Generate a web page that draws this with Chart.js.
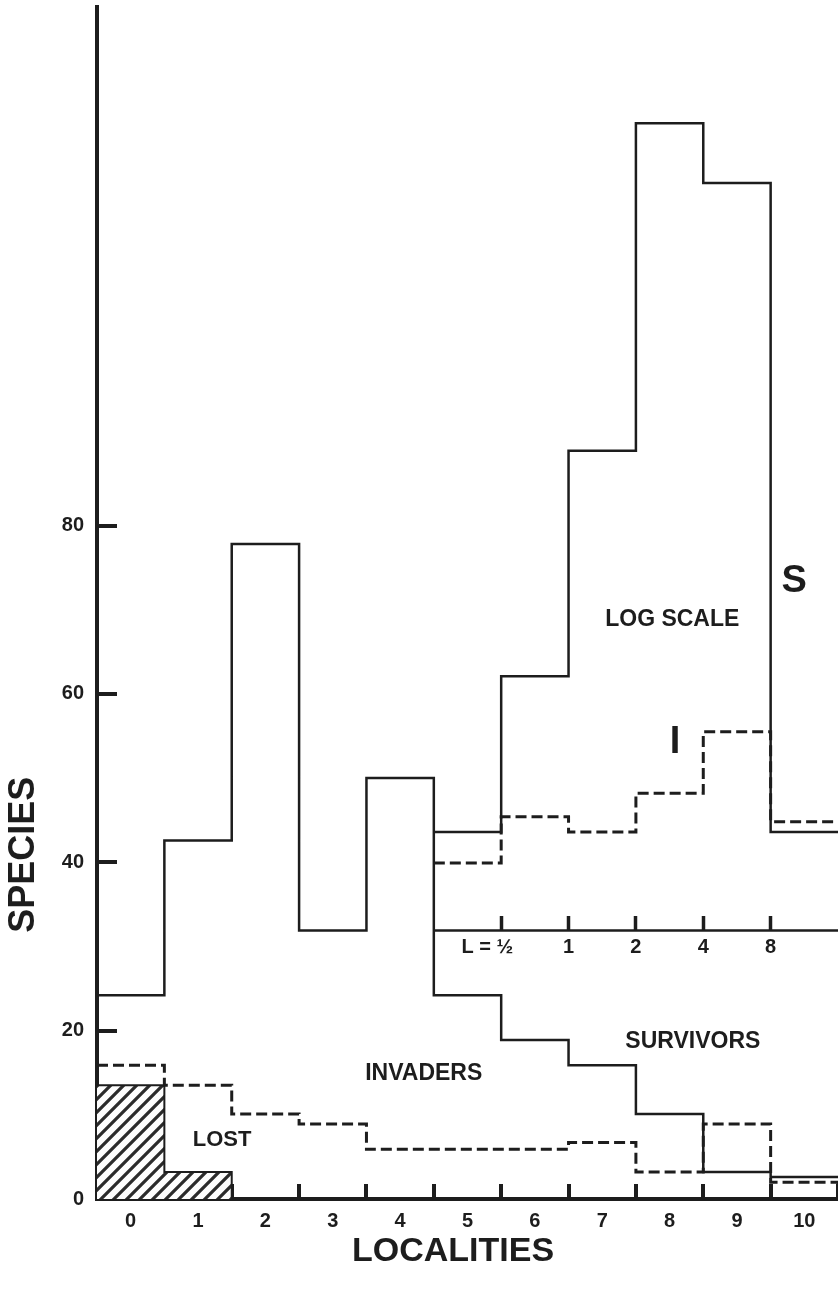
<!DOCTYPE html>
<html>
<head>
<meta charset="utf-8">
<script src="https://cdn.jsdelivr.net/npm/chart.js@4.4.1/dist/chart.umd.min.js"></script>
<style>html,body{margin:0;padding:0;background:#fff;}canvas{display:block;}</style>
</head>
<body>
<canvas id="c" width="838" height="1298"></canvas>
<script>
// ---- data ----
const categories = [0, 1, 2, 3, 4, 5, 6, 7, 8, 9, 10];
const survivors = [24.2, 42.6, 77.8, 31.9, 50.0, 24.2, 18.9, 15.9, 10.1, 3.2, 2.6];
const invaders = [15.9, 13.5, 10.1, 8.9, 5.9, 5.9, 5.9, 6.7, 3.2, 8.9, 2.0];
const lostCategories = [0, 1];
const lost = [13.5, 3.2];
const logCategories = [5, 6, 7, 8, 9, 10];
const logSurvivors = [43.6, 62.1, 88.9, 127.8, 120.7, 43.6];
const logInvaders = [39.9, 45.4, 43.6, 48.2, 55.5, 44.8];
const logBaseline = 31.9;
const logTickLabels = ['L = ½', '1', '2', '4', '8'];
const yTickValues = [0, 20, 40, 60, 80];

const notes = [
  {text: 'S', x: 9.85, y: 73.3, size: 38},
  {text: 'LOG SCALE', x: 8.04, y: 68.8, size: 23},
  {text: 'I', x: 8.08, y: 54.2, size: 38},
  {text: 'SURVIVORS', x: 8.345, y: 18.7, size: 23},
  {text: 'INVADERS', x: 4.35, y: 14.9, size: 23},
  {text: 'LOST', x: 1.356, y: 7.05, size: 22}
];

const ink = '#1d1d1d';
const family = '"Liberation Sans", Arial, Helvetica, sans-serif';

function stepPoints(cats, vals) {
  const pts = cats.map((c, i) => ({x: c - 0.5, y: vals[i]}));
  pts.push({x: cats[cats.length - 1] + 0.5, y: vals[vals.length - 1]});
  return pts;
}

const survPts = stepPoints(categories, survivors);
const invPts = stepPoints(categories, invaders);
invPts.push({x: categories[categories.length - 1] + 0.5, y: 0});
const lostPts = stepPoints(lostCategories, lost);
lostPts.push({x: lostCategories[lostCategories.length - 1] + 0.5, y: 0});
const logSPts = stepPoints(logCategories, logSurvivors);
const logIPts = stepPoints(logCategories, logInvaders);
const basePts = [
  {x: logCategories[0] - 0.5, y: logBaseline},
  {x: logCategories[logCategories.length - 1] + 0.5, y: logBaseline}
];
const logTickPositions = logCategories.slice(0, -1).map(c => c + 0.5);

function hatch() {
  const c = document.createElement('canvas');
  c.width = 13; c.height = 13;
  const g = c.getContext('2d');
  g.fillStyle = '#fdfdfd'; g.fillRect(0, 0, 13, 13);
  g.strokeStyle = '#2b2b2b'; g.lineWidth = 3.2;
  g.beginPath();
  g.moveTo(-3, 16); g.lineTo(16, -3);
  g.moveTo(-3, 3); g.lineTo(3, -3);
  g.moveTo(10, 16); g.lineTo(16, 10);
  g.stroke();
  return g.createPattern(c, 'repeat');
}

const base = {pointRadius: 0, pointHoverRadius: 0, stepped: true, fill: false, borderColor: ink, tension: 0};

const notesPlugin = {
  id: 'notes',
  afterDraw(chart) {
    const {ctx, scales: {x, y}, chartArea} = chart;
    ctx.save();
    ctx.fillStyle = ink;
    ctx.textAlign = 'center';
    ctx.textBaseline = 'middle';
    notes.forEach(n => {
      ctx.font = `bold ${n.size}px ${family}`;
      ctx.fillText(n.text, x.getPixelForValue(n.x), y.getPixelForValue(n.y));
    });
    ctx.font = `bold 34px ${family}`;
    ctx.fillText('LOCALITIES', x.getPixelForValue(4.785), chartArea.bottom + 53);
    ctx.font = `bold 36px ${family}`;
    ctx.translate(24, y.getPixelForValue(40.9));
    ctx.rotate(-Math.PI / 2);
    ctx.fillText('SPECIES', 0, 0);
    ctx.restore();
  }
};

new Chart(document.getElementById('c'), {
  type: 'line',
  data: {
    datasets: [
      Object.assign({}, base, {label: 'Lost', data: lostPts, fill: 'origin', backgroundColor: hatch(), borderWidth: 2, order: 5}),
      Object.assign({}, base, {label: 'Survivors', data: survPts, borderWidth: 2.5, order: 1}),
      Object.assign({}, base, {label: 'Invaders', data: invPts, borderWidth: 3, borderDash: [11, 5], order: 1}),
      Object.assign({}, base, {label: 'Log scale baseline', data: basePts, borderWidth: 2.5, order: 2}),
      Object.assign({}, base, {label: 'S (log scale)', data: logSPts, borderWidth: 2.5, order: 1}),
      Object.assign({}, base, {label: 'I (log scale)', data: logIPts, borderWidth: 3, borderDash: [11, 5], order: 1})
    ]
  },
  options: {
    responsive: false,
    devicePixelRatio: 1,
    animation: false,
    layout: {padding: {top: 7, left: 0, right: -1, bottom: 0}},
    plugins: {legend: {display: false}, tooltip: {enabled: false}, title: {display: false}},
    scales: {
      x: {
        type: 'linear', min: -0.5, max: 10.5, position: 'bottom', z: 1,
        afterBuildTicks: s => { s.ticks = categories.map(v => ({value: v})); },
        afterFit: s => { s.height = 99; s.paddingLeft = 0; s.paddingRight = 0; },
        grid: {display: true, offset: true, drawOnChartArea: false, drawTicks: true, tickLength: -15, tickWidth: 4, tickColor: ink, lineWidth: 4, color: ink},
        border: {display: true, width: 4, color: ink},
        ticks: {autoSkip: false, maxRotation: 0, minRotation: 0, padding: 25, color: ink,
                font: {family: family, size: 20, weight: 'bold'}, callback: v => String(v)}
      },
      y: {
        type: 'linear', min: 0, max: 141.6, position: 'left', z: 1,
        afterBuildTicks: s => { s.ticks = yTickValues.map(v => ({value: v})); },
        afterFit: s => { s.width = 97; s.paddingTop = 0; s.paddingBottom = 0; },
        grid: {display: true, drawOnChartArea: false, drawTicks: true, tickLength: -20, tickWidth: 4, tickColor: ink, lineWidth: 4, color: ink},
        border: {display: true, width: 4, color: ink},
        ticks: {padding: 33, color: ink, font: {family: family, size: 20, weight: 'bold'}, callback: v => String(v)}
      },
      x2: {
        type: 'linear', min: -0.5, max: 10.5, position: {y: logBaseline}, z: 1,
        afterBuildTicks: s => { s.ticks = logTickPositions.map(v => ({value: v})); },
        afterFit: s => { s.paddingLeft = 0; s.paddingRight = 0; },
        grid: {display: true, drawOnChartArea: false, drawTicks: true, tickLength: -14, tickWidth: 3.5, tickColor: ink, lineWidth: 3, color: ink},
        border: {display: false},
        ticks: {autoSkip: false, maxRotation: 0, minRotation: 0, padding: 19.5, color: ink,
                font: {family: family, size: 20, weight: 'bold'},
                callback: (v, i) => i === 0 ? logTickLabels[i] + '\u00a0'.repeat(5) : logTickLabels[i]}
      }
    }
  },
  plugins: [notesPlugin]
});
</script>
</body>
</html>
